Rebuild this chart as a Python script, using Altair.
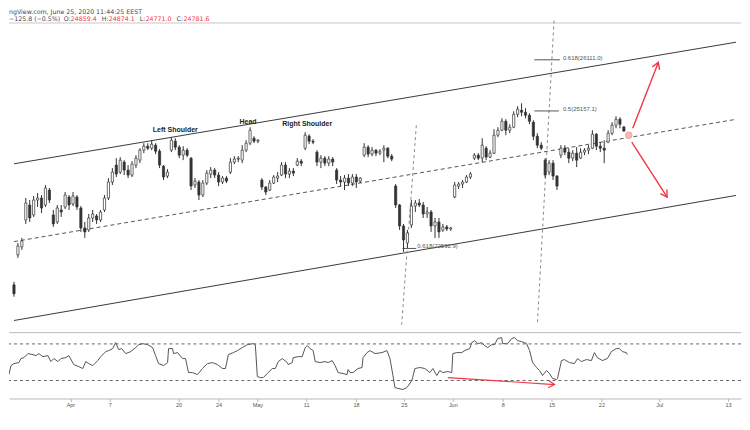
import altair as alt
import pandas as pd

# ---------------- price candles (bar index, OHLC) ----------------
bar_index = list(range(1, 157))
opens = [21915, 22473, 22622, 23124, 23403, 23217, 23496, 23533, 23403, 23682,
         23217, 23087, 23310, 23366, 23552, 23422, 23552, 23347, 22975, 22938,
         23161, 23198, 23124, 23310, 23533, 23831, 24147, 24017, 24203, 24054,
         23961, 24147, 24240, 24426, 24500, 24463, 24519, 24407, 24128, 23942,
         24426, 24593, 24482, 24333, 24426, 24277, 23775, 23831, 23589, 23812,
         23980, 24054, 23961, 23831, 23905, 24017, 24203, 24259, 24240, 24426,
         24556, 24649, 24593, 23868, 23738, 23682, 23812, 23905, 23961, 24147,
         23980, 24035, 24147, 24221, 24463, 24686, 24593, 24389, 24203, 24277,
         24184, 24259, 24054, 23868, 23831, 23905, 23812, 23924, 23849, 24333,
         24482, 24352, 24426, 24370, 24426, 24463, 24314, 23756, 23403, 23012,
         22696, 23031, 23384, 23440, 23403, 23236, 23273, 23012, 23087, 22938,
         22994, 22957, 23552, 23756, 23794, 23831, 23924, 24277, 24333, 24277,
         24463, 24296, 24370, 24705, 24798, 24965, 24798, 24854, 25096, 25170,
         25133, 25077, 24947, 24686, 24519, 24240, 24017, 24184, 23942, 24333,
         24463, 24389, 24277, 24370, 24277, 24389, 24426, 24463, 24724, 24500,
         24463, 24575, 24742, 24891, 25003, 24859.4]
highs = [21971, 22696, 22789, 23533, 23496, 23570, 23626, 23589, 23775, 23719,
         23310, 23403, 23403, 23645, 23589, 23645, 23589, 23384, 23087, 23236,
         23310, 23236, 23310, 23589, 23905, 24091, 24277, 24296, 24240, 24147,
         24221, 24333, 24463, 24556, 24556, 24612, 24556, 24445, 24147, 24073,
         24668, 24649, 24519, 24500, 24463, 24296, 23905, 23868, 23868, 24054,
         24110, 24091, 24017, 23942, 23942, 24277, 24314, 24314, 24519, 24612,
         24854, 24686, 24631, 23905, 23756, 23868, 23961, 24017, 24203, 24203,
         24091, 24091, 24277, 24259, 24761, 24724, 24631, 24426, 24333, 24314,
         24314, 24296, 24091, 23942, 23961, 23980, 23980, 23980, 23924, 24556,
         24519, 24482, 24445, 24445, 24519, 24482, 24352, 23794, 23422, 23050,
         22938, 23496, 23496, 23515, 23459, 23366, 23310, 23161, 23161, 23050,
         23031, 22994, 23831, 23831, 23868, 23961, 24017, 24370, 24370, 24649,
         24500, 24426, 24817, 24854, 25021, 25003, 24910, 25151, 25244, 25300,
         25207, 25114, 24984, 24742, 24575, 24277, 24240, 24240, 23961, 24519,
         24519, 24463, 24426, 24482, 24463, 24463, 24519, 24798, 24742, 24575,
         24612, 24798, 24947, 25058, 25040, 24874.1]
lows = [21692, 22417, 22566, 23050, 23087, 23180, 23366, 23254, 23366, 23440,
        22994, 23050, 23180, 23329, 23310, 23384, 23310, 22901, 22789, 22901,
        23087, 23050, 23087, 23273, 23496, 23775, 23924, 23980, 23961, 23905,
        23924, 24091, 24184, 24370, 24426, 24426, 24352, 24091, 23868, 23905,
        24389, 24426, 24277, 24240, 24296, 23682, 23719, 23496, 23552, 23775,
        23905, 23905, 23756, 23794, 23812, 23980, 24166, 24203, 24184, 24389,
        24519, 24556, 24556, 23682, 23589, 23663, 23794, 23831, 23942, 23905,
        23905, 23942, 24128, 24128, 24426, 24538, 24538, 24128, 24091, 24128,
        24128, 24128, 23794, 23756, 23682, 23756, 23756, 23719, 23812, 24296,
        24296, 24314, 24314, 24333, 24203, 24277, 24221, 23347, 22938, 22529,
        22603, 22975, 23273, 23366, 23161, 23161, 22901, 22789, 22789, 22901,
        22919, 22919, 23533, 23701, 23719, 23812, 23887, 24240, 24240, 24203,
        24240, 24277, 24352, 24668, 24779, 24705, 24742, 24835, 25040, 25058,
        25021, 24910, 24612, 24463, 24426, 23905, 23961, 23868, 23682, 24277,
        24333, 24184, 24221, 24110, 24259, 24333, 24352, 24445, 24426, 24389,
        24184, 24556, 24705, 24835, 24835, 24771.0]
closes = [21748, 22640, 22733, 23440, 23161, 23496, 23533, 23347, 23719, 23496,
          23050, 23347, 23273, 23589, 23403, 23570, 23366, 22975, 22901, 23161,
          23236, 23124, 23273, 23533, 23831, 24017, 23980, 24240, 24054, 23961,
          24166, 24277, 24426, 24500, 24463, 24538, 24407, 24147, 23924, 24017,
          24612, 24482, 24333, 24426, 24333, 23756, 23849, 23589, 23812, 23998,
          24054, 23961, 23831, 23905, 23849, 24203, 24259, 24277, 24426, 24556,
          24798, 24593, 24612, 23738, 23645, 23812, 23924, 23942, 24147, 23980,
          24035, 23998, 24221, 24184, 24705, 24593, 24575, 24203, 24277, 24184,
          24259, 24203, 23868, 23831, 23905, 23812, 23924, 23831, 23905, 24482,
          24352, 24426, 24370, 24407, 24463, 24314, 24259, 23403, 23012, 22752,
          22882, 23384, 23440, 23403, 23236, 23273, 23012, 23087, 22901, 22994,
          22957, 22975, 23775, 23794, 23831, 23924, 23980, 24333, 24277, 24519,
          24296, 24370, 24705, 24798, 24965, 24798, 24854, 25096, 25189, 25133,
          25077, 24965, 24686, 24519, 24463, 23961, 24184, 23942, 23756, 24463,
          24389, 24277, 24370, 24240, 24389, 24426, 24463, 24724, 24500, 24463,
          24426, 24742, 24891, 25003, 24910, 24781.6]

# ---------------- RSI ----------------
rsi_bar = [1, 1.5, 2.25, 3.5, 4, 4.75, 5.75, 7, 7.75, 8.5, 9.5, 10.75, 11.5, 12.25, 13.25,
           14, 15.25, 16, 17.25, 18.5, 19.5, 20.25, 21, 22, 23.25, 24, 25.25, 26, 27, 27.75,
           28.5, 29.25, 30.25, 31.5, 32.75, 33.5, 34.5, 35.75, 37, 37.75, 38.5, 39.75, 40.75,
           41, 42, 42.25, 43.25, 44.5, 45.25, 46, 47, 48.25, 49.5, 50.75, 52, 53.25, 54.5,
           55.25, 56, 57.25, 58.25, 59.5, 60.75, 62.25, 62.75, 63.25, 64, 64.75, 65.75, 67,
           67.75, 68.5, 69.5, 70.75, 71, 72, 72.25, 73.5, 74.5, 75.25, 75.75, 76.5, 77.25,
           77.75, 79, 80.25, 81, 82, 82.75, 83.5, 84.75, 85.75, 86, 86.5, 87.25, 88.5, 89.5,
           89.75, 90.75, 91.5, 92.75, 94.5, 95.75, 96.5, 97.25, 97.75, 98.5, 99.75, 100.75,
           102, 102.75, 104, 105.25, 106.5, 107.25, 108.25, 109, 109.75, 111, 112, 112.25,
           113.25, 114.5, 115.25, 116.5, 117, 117.75, 118.5, 119.5, 120.25, 121, 122, 122.75,
           123.5, 124.5, 124.75, 126, 127, 127.75, 128.5, 129.5, 130.75, 131.5, 132.25,
           133.25, 134, 134.75, 135.75, 136.5, 137.25, 138.25, 138.5, 139.5, 140.25, 141.5,
           142.75, 143.5, 144.5, 145.75, 147, 147.75, 148.5, 149.75, 151, 152, 153.25, 154,
           154.75, 155.75, 156]
rsi_val = [36.5, 46.3, 48.5, 49.6, 54.0, 55.0, 59.4, 58.3, 57.2, 59.4, 56.1, 57.2, 50.7, 54.0,
           50.7, 54.0, 55.0, 57.2, 47.4, 45.2, 43.1, 50.7, 48.5, 46.3, 51.8, 56.1, 61.6, 62.7,
           64.9, 71.4, 63.8, 64.9, 59.4, 61.6, 66.0, 69.2, 70.3, 69.2, 66.0, 57.2, 48.5, 46.3,
           49.6, 64.9, 64.9, 59.4, 60.5, 54.0, 54.0, 38.7, 38.7, 36.5, 43.1, 48.5, 49.6, 47.4,
           43.1, 43.1, 58.3, 60.5, 62.7, 66.0, 69.2, 70.3, 69.2, 34.3, 33.2, 33.2, 37.6, 43.1,
           43.1, 50.7, 54.0, 49.6, 47.4, 49.6, 55.0, 56.1, 56.1, 66.0, 68.1, 64.9, 62.7, 50.7,
           49.6, 50.7, 49.6, 51.8, 46.3, 38.7, 37.6, 36.5, 42.0, 38.7, 38.7, 43.1, 44.2, 55.0,
           60.5, 62.7, 59.4, 60.5, 62.7, 54.0, 35.4, 22.3, 21.3, 20.2, 22.3, 30.0, 43.1, 44.2,
           43.1, 38.7, 43.1, 35.4, 40.9, 38.7, 39.8, 38.7, 59.4, 60.5, 60.5, 62.7, 64.9, 71.4,
           73.6, 70.3, 71.4, 68.1, 66.0, 69.2, 69.2, 75.8, 76.9, 70.3, 70.3, 75.8, 76.9, 73.6,
           72.5, 70.3, 62.7, 49.6, 44.2, 40.9, 35.4, 40.9, 37.6, 32.2, 31.1, 32.2, 51.8, 52.9,
           49.6, 48.5, 54.0, 50.7, 52.9, 51.8, 60.5, 55.0, 51.8, 54.0, 61.6, 64.9, 64.9, 61.6,
           60.5, 58.3]
rsi_levels = [70, 30]

# ---------------- axis ticks ----------------
tick_bars = [16.4, 26.25, 43.5, 53.5, 63.25, 75.5, 88, 100, 112.25, 124.75, 137, 149.5, 164, 181.25]
tick_labels = ["Apr", "7", "20", "24", "May", "11", "18", "25", "Jun", "8", "15", "22", "Jul", "13"]

# ---------------- drawings (bar, price) ----------------
channel_b1 = [1, 1]
channel_p1 = [24171, 21249]
channel_b2 = [184.5, 184.5]
channel_p2 = [26439, 23582]
mid_b = [1, 184.5]
mid_p = [22720, 25001]
vline_b1 = [103.25, 138.25]
vline_p1 = [24891, 26844]
vline_b2 = [99.5, 134]
vline_p2 = [21152, 21152]
fib_b1 = [99.75, 133.25, 133.25]
fib_b2 = [103.25, 139.5, 139.75]
fib_price = [22592.9, 25157.1, 26111.0]
fib_text = ["0.618(22592.9)", "0.5(25157.1)", "0.618(26111.0)"]
fib_text_bar = [103.5, 140.5, 140.5]
pattern_text = ["Left Shoulder", "Head", "Right Shoulder"]
pattern_bar = [42, 60.5, 75.5]
pattern_price = [24798, 24947, 24910]
arrow_b1 = [158.25, 158]
arrow_p1 = [24835, 24575]
arrow_b2 = [164.75, 167]
arrow_p2 = [26063, 23552]
arrow_angle = [291.5, 56.8]
pivot_bar = [157.25]
pivot_price = [24705]
div_b1, div_r1, div_b2, div_r2, div_angle = [111], [33.2], [137.75], [25.6], [3.7]

X_DOMAIN = [1, 184.5]
P_DOMAIN = [21171, 27067]
R_DOMAIN = [10.35, 82.3]
W = 734
CANDLE = "#333333"
RED = "#f23645"
FIB_COLOR = "#555555"

xs = alt.Scale(domain=X_DOMAIN, nice=False, zero=False)
ys = alt.Scale(domain=P_DOMAIN, nice=False, zero=False)
rs = alt.Scale(domain=R_DOMAIN, nice=False, zero=False)

candles = pd.DataFrame({"bar": bar_index, "open": opens, "high": highs,
                        "low": lows, "close": closes})

def X(f):
    return alt.X(f, scale=xs, axis=None)

def Y(f):
    return alt.Y(f, scale=ys, axis=None)

one = pd.DataFrame({"a": [0]})

def label(txt, x, y, color, size=6.3, weight="normal", font="DejaVu Sans"):
    return alt.Chart(pd.DataFrame({"t": [txt]})).mark_text(
        align="left", baseline="top", fontSize=size, color=color, font=font,
        fontWeight=weight).encode(text="t:N", x=alt.value(x), y=alt.value(y))

separator = alt.Chart(one).mark_rule(color="#c8c8c8", strokeWidth=1).encode(
    x=alt.value(0), x2=alt.value(W), y=alt.value(14.5))

chan_df = pd.DataFrame({"b1": channel_b1, "p1": channel_p1, "b2": channel_b2, "p2": channel_p2})
channel = alt.Chart(chan_df).mark_rule(color="#3a3a3a", strokeWidth=1, clip=True).encode(
    x=X("b1:Q"), y=Y("p1:Q"), x2="b2:Q", y2="p2:Q")

mid_df = pd.DataFrame({"b1": [mid_b[0]], "p1": [mid_p[0]], "b2": [mid_b[1]], "p2": [mid_p[1]]})
mid = alt.Chart(mid_df).mark_rule(color="#555555", strokeWidth=1, strokeDash=[4, 3], clip=True).encode(
    x=X("b1:Q"), y=Y("p1:Q"), x2="b2:Q", y2="p2:Q")

vl_df = pd.DataFrame({"b1": vline_b1, "p1": vline_p1, "b2": vline_b2, "p2": vline_p2})
vlines = alt.Chart(vl_df).mark_rule(color="#8a8a8a", strokeWidth=1, strokeDash=[3, 3], clip=True).encode(
    x=X("b1:Q"), y=Y("p1:Q"), x2="b2:Q", y2="p2:Q")

fib_df = pd.DataFrame({"b1": fib_b1, "b2": fib_b2, "p": fib_price, "t": fib_text, "tb": fib_text_bar})
fib_lines = alt.Chart(fib_df).mark_rule(color=FIB_COLOR, strokeWidth=1).encode(
    x=X("b1:Q"), x2="b2:Q", y=Y("p:Q"))
fib_labels = alt.Chart(fib_df).mark_text(align="left", baseline="middle", dy=-2, fontSize=6,
                                         font="Liberation Sans", color=FIB_COLOR).encode(
    x=X("tb:Q"), y=Y("p:Q"), text="t:N")

wick = alt.Chart(candles).mark_rule(color=CANDLE, strokeWidth=1, clip=True).encode(
    x=X("bar:Q"), y=Y("low:Q"), y2="high:Q")
body = alt.Chart(candles).mark_bar(size=2.2, stroke=CANDLE, strokeWidth=0.7, clip=True).encode(
    x=X("bar:Q"), y=Y("open:Q"), y2="close:Q",
    fill=alt.condition("datum.close >= datum.open", alt.value("#ffffff"), alt.value(CANDLE)))

pat_df = pd.DataFrame({"t": pattern_text, "b": pattern_bar, "p": pattern_price})
pattern = alt.Chart(pat_df).mark_text(fontSize=7, fontWeight="bold", font="Liberation Sans",
                                      color="#222222", baseline="middle").encode(
    x=X("b:Q"), y=Y("p:Q"), text="t:N")

arr_df = pd.DataFrame({"b1": arrow_b1, "p1": arrow_p1, "b2": arrow_b2, "p2": arrow_p2, "ang": arrow_angle})
arrows = alt.Chart(arr_df).mark_rule(color=RED, strokeWidth=1.4).encode(
    x=X("b1:Q"), y=Y("p1:Q"), x2="b2:Q", y2="p2:Q")
HEAD = "M -1 -0.6 L 0 0 L -1 0.6"
arrow_heads = alt.Chart(arr_df).mark_point(shape=HEAD, filled=False, color=RED, strokeWidth=1.4,
                                           size=170, opacity=1).encode(
    x=X("b2:Q"), y=Y("p2:Q"), angle=alt.Angle("ang:Q", scale=None))

pivot = alt.Chart(pd.DataFrame({"b": pivot_bar, "p": pivot_price})).mark_point(
    shape="circle", filled=True, size=45, color="#f7b9b9", stroke="#f08a8a", strokeWidth=0.6,
    opacity=1).encode(x=X("b:Q"), y=Y("p:Q"))

HC = "#434651"
header = [
    label("ngView.com, June 25, 2020 11:44:25 EEST", 0, 0, HC),
    label("\u2212125.8 (\u22120.5%)", 0, 7.3, HC),
    label("O:", 55, 7.3, HC), label("24859.4", 62, 7.3, RED),
    label("H:", 93, 7.3, HC), label("24874.1", 100, 7.3, RED),
    label("L:", 131, 7.3, HC), label("24771.0", 137, 7.3, RED),
    label("C:", 168, 7.3, HC), label("24781.6", 175, 7.3, RED),
]

top = alt.layer(separator, channel, mid, vlines, fib_lines, fib_labels, wick, body,
                pattern, arrows, arrow_heads, pivot, *header).properties(width=W, height=317)

# ---------------- RSI panel ----------------
expr = "''"
for v, l in zip(reversed(tick_bars), reversed(tick_labels)):
    expr = f"datum.value == {v} ? '{l}' : ({expr})"

x_axis = alt.Axis(values=tick_bars, labelExpr=expr, title=None, grid=False,
                  domainColor="#b8b8b8", tickColor="#b8b8b8", tickSize=3,
                  labelFontSize=5.5, labelFont="Liberation Sans", labelColor="#555555",
                  labelPadding=1.5, labelOverlap=False, labelFlush=False)

def XR(f):
    return alt.X(f, scale=xs, axis=x_axis)

def YR(f):
    return alt.Y(f, scale=rs, axis=None)

rsi_df = pd.DataFrame({"bar": rsi_bar, "rsi": rsi_val})
rsi_line = alt.Chart(rsi_df).mark_line(color="#555555", strokeWidth=1, clip=True).encode(
    x=XR("bar:Q"), y=YR("rsi:Q"))
levels = alt.Chart(pd.DataFrame({"lv": rsi_levels})).mark_rule(
    color="#666666", strokeWidth=1, strokeDash=[3, 3]).encode(y=YR("lv:Q"))
rsi_top = alt.Chart(one).mark_rule(color="#b8b8b8", strokeWidth=1).encode(
    x=alt.value(0), x2=alt.value(W), y=alt.value(0))
div_df = pd.DataFrame({"b1": div_b1, "r1": div_r1, "b2": div_b2, "r2": div_r2, "ang": div_angle})
div_arrow = alt.Chart(div_df).mark_rule(color=RED, strokeWidth=1.2).encode(
    x=XR("b1:Q"), y=YR("r1:Q"), x2="b2:Q", y2="r2:Q")
div_head = alt.Chart(div_df).mark_point(shape=HEAD, filled=False, color=RED, strokeWidth=1.2,
                                        size=150, opacity=1).encode(
    x=XR("b2:Q"), y=YR("r2:Q"), angle=alt.Angle("ang:Q", scale=None))

bottom = alt.layer(rsi_line, rsi_top, levels, div_arrow, div_head).properties(width=W, height=66)

chart = alt.vconcat(top, bottom, spacing=7).properties(
    padding={"left": 0, "right": 0, "top": 0, "bottom": 0}
).configure_view(stroke=None)

chart.save("out.html", embed_options={"renderer": "svg", "actions": False})
